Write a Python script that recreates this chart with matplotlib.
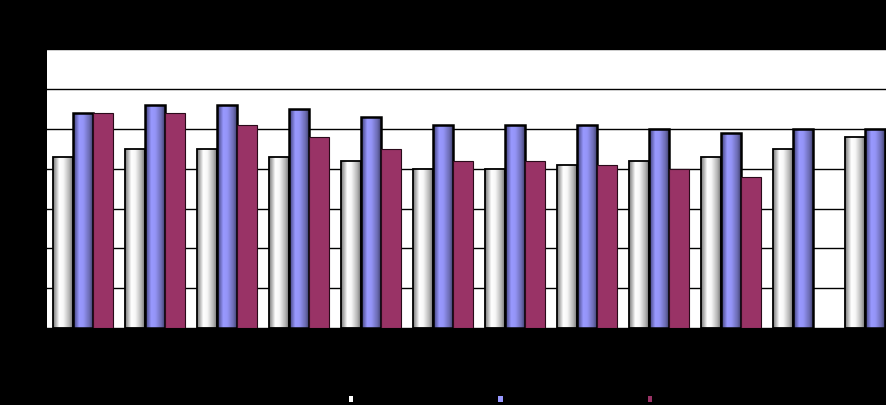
import numpy as np
import matplotlib.pyplot as plt
from matplotlib.colors import LinearSegmentedColormap
from matplotlib.patches import Patch

categories = list(range(1, 13))
series_names = ["Series 1", "Series 2", "Series 3"]
white_vals = [43, 45, 45, 43, 42, 40, 40, 41, 42, 43, 45, 48]
blue_vals = [54, 56, 56, 55, 53, 51, 51, 51, 50, 49, 50, 50]
maroon_vals = [54, 54, 51, 48, 45, 42, 42, 41, 40, 38, np.nan, np.nan]

white_cmap = LinearSegmentedColormap.from_list(
    "wg", [(0, "#767676"), (0.3, "#ffffff"), (0.5, "#f6f6f6"), (0.8, "#b0b0b0"), (1, "#606060")])
blue_cmap = LinearSegmentedColormap.from_list(
    "bg", [(0, "#3a3a70"), (0.3, "#9999ff"), (0.5, "#9494f6"), (0.8, "#6a6ab0"), (1, "#34345e")])
maroon = "#993366"

fig = plt.figure(figsize=(8.87, 4.05), dpi=100, facecolor="black")
ax = fig.add_axes([47 / 887, 77 / 405, 864 / 887, 278.7 / 405])
ax.set_facecolor("white")

x = np.arange(len(categories))
w = 0.282
grad = np.linspace(0, 1, 64).reshape(1, -1)

b1 = ax.bar(x - w, white_vals, w, facecolor="none", edgecolor="black", linewidth=1.3, zorder=3)
b2 = ax.bar(x, blue_vals, w, facecolor="none", edgecolor="black", linewidth=1.8, zorder=3)
b3 = ax.bar(x + w, maroon_vals, w, color=maroon, edgecolor="#2a0a1a", linewidth=0.8, zorder=3)

# cylinder-like shading for the first two series
for bars, cmap in [(b1, white_cmap), (b2, blue_cmap)]:
    for p in bars:
        x0, h = p.get_x(), p.get_height()
        im = ax.imshow(grad, cmap=cmap, extent=[x0, x0 + w, 0, h], aspect="auto",
                       interpolation="bilinear", zorder=2.9)
        im.set_clip_path(p)

ax.set_xlim(-0.5, len(categories) - 0.5)
ax.set_ylim(0, 70)
ax.set_yticks(np.arange(0, 71, 10))
ax.set_xticks(x)
ax.set_xticklabels(categories, color="black")
ax.tick_params(colors="black", labelcolor="black")
ax.grid(axis="y", color="black", linewidth=1)
ax.set_axisbelow(True)
for s in ax.spines.values():
    s.set_visible(False)

handles = [Patch(facecolor="white"), Patch(facecolor="#9999ff"), Patch(facecolor=maroon)]
leg = fig.legend(handles, series_names, loc="lower left", bbox_to_anchor=(349 / 887, 0.0),
                 ncol=3, frameon=False, fontsize=8, labelcolor="black",
                 handlelength=0.4, handleheight=0.4, handletextpad=0.8,
                 columnspacing=8.2, borderpad=0, borderaxespad=0)

fig.savefig("out.png", dpi=100, facecolor="black")
